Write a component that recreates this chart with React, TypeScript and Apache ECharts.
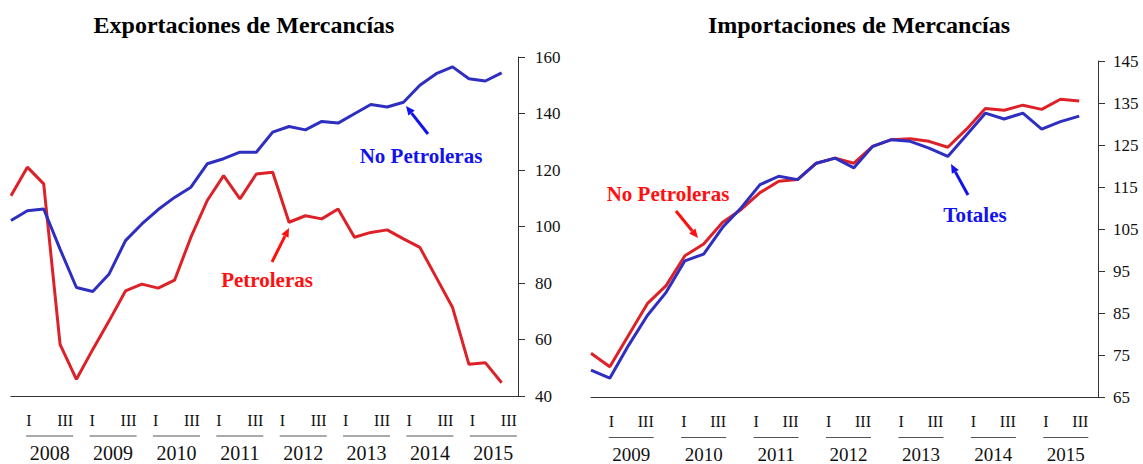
import React, { useEffect, useRef } from "react";
import * as echarts from "echarts";

// ---------- data ----------
const EXP_YEARS = ["2008", "2009", "2010", "2011", "2012", "2013", "2014", "2015"];
const IMP_YEARS = ["2009", "2010", "2011", "2012", "2013", "2014", "2015"];
const QUARTERS = ["I", "II", "III", "IV"];

// Exportaciones (2008-I .. 2015-III)
const EXP_NO_PETROLERAS = [
  102.1, 105.6, 106.2, 92.0, 78.4, 77.0, 83.2, 95.0, 100.9, 106.0, 110.3, 113.9,
  122.2, 124.0, 126.3, 126.3, 133.4, 135.4, 134.2, 137.2, 136.6, 139.9, 143.2, 142.3,
  144.0, 150.0, 154.1, 156.5, 152.3, 151.5, 154.4,
];
const EXP_PETROLERAS = [
  110.9, 121.0, 115.1, 58.3, 45.9, 56.5, 66.6, 77.2, 79.6, 78.2, 81.0, 96.2,
  109.2, 118.0, 109.8, 118.6, 119.2, 101.5, 103.8, 102.7, 106.2, 96.2, 97.9, 98.8,
  95.6, 92.6, 82.0, 71.3, 51.2, 51.8, 44.7,
];

// Importaciones (2009-I .. 2015-III)
const IMP_TOTALES = [
  71.5, 69.6, 77.4, 84.5, 90.0, 97.5, 99.1, 105.4, 110.1, 115.6, 117.6, 116.8,
  120.7, 121.9, 119.6, 124.7, 126.3, 125.9, 124.3, 122.3, 127.4, 132.6, 131.2, 132.6,
  128.8, 130.6, 131.9,
];
const IMP_NO_PETROLERAS = [
  75.5, 72.3, 79.8, 87.3, 91.6, 98.7, 101.5, 106.6, 109.7, 113.7, 116.4, 116.8,
  120.7, 121.9, 120.7, 124.7, 126.3, 126.5, 125.9, 124.5, 128.8, 133.7, 133.3, 134.5,
  133.5, 135.9, 135.5,
];

const EXP_Y = { min: 40, max: 160, interval: 20 };
const IMP_Y = { min: 65, max: 145, interval: 10 };

const TITLES = ["Exportaciones de Mercancías", "Importaciones de Mercancías"];

// ---------- styles ----------
const FONT = "'Liberation Serif', 'Times New Roman', Times, serif";
const BLUE_LINE = "#2E2EC0";
const RED_LINE = "#DC2228";
const BLUE_TEXT = "#1212EE";
const RED_TEXT = "#FF1010";
const AXIS = "#333333";

const quarterCats = (years: string[]) =>
  years.flatMap((y) => QUARTERS.map((q) => `${y}-${q}`));

const yearLabel = (padLeft: number, yearSize: number, ulWidth: number) => ({
  show: true,
  interval: 0,
  margin: 14,
  padding: [0, 0, 0, padLeft],
  formatter: (v: string) => `{qa|I}{qb|III}\n{u|}\n{y|${v}}`,
  rich: {
    qa: { align: "left", fontSize: 16, fontFamily: FONT, color: "#111", lineHeight: 20 },
    qb: { align: "right", fontSize: 16, fontFamily: FONT, color: "#111", lineHeight: 20 },
    u: { align: "center", width: ulWidth, height: 1, lineHeight: 12, backgroundColor: "#555" },
    y: { align: "center", fontSize: yearSize, fontFamily: FONT, color: "#111", lineHeight: 22 },
  },
});

const arrow = (x1: number, y1: number, x2: number, y2: number, color: string) => {
  const dx = x2 - x1;
  const dy = y2 - y1;
  const len = Math.sqrt(dx * dx + dy * dy);
  const ux = dx / len;
  const uy = dy / len;
  const hl = 9;
  const hw = 4;
  const bx = x2 - ux * hl;
  const by = y2 - uy * hl;
  return [
    {
      type: "line",
      shape: { x1, y1, x2: bx, y2: by },
      style: { stroke: color, lineWidth: 3 },
      silent: true,
    },
    {
      type: "polygon",
      shape: {
        points: [
          [x2, y2],
          [bx - uy * hw, by + ux * hw],
          [bx + uy * hw, by - ux * hw],
        ],
      },
      style: { fill: color },
      silent: true,
    },
  ];
};

const textEl = (x: number, y: number, text: string, color: string, size: number) => ({
  type: "text",
  x,
  y,
  silent: true,
  style: {
    text,
    fill: color,
    font: `bold ${size}px ${FONT}`,
    align: "center",
    verticalAlign: "middle",
  },
});

export default function App() {
  const ref = useRef<HTMLDivElement>(null);

  useEffect(() => {
    if (!ref.current) return;
    const chart = echarts.init(ref.current, undefined, { renderer: "svg" });

    const valueAxis = (gridIndex: number, r: { min: number; max: number; interval: number }, margin: number) => ({
      gridIndex,
      type: "value",
      position: "right",
      min: r.min,
      max: r.max,
      interval: r.interval,
      axisLine: { show: true, lineStyle: { color: AXIS, width: 1 } },
      axisTick: { show: true, length: 7, lineStyle: { color: AXIS } },
      axisLabel: { margin, fontSize: 17, fontFamily: FONT, color: "#111" },
      splitLine: { show: false },
    });

    const catAxis = (gridIndex: number, data: string[]) => ({
      gridIndex,
      type: "category",
      data,
      boundaryGap: false,
      position: "bottom",
      axisLine: { show: true, lineStyle: { color: AXIS, width: 1.2 } },
      axisTick: { show: false },
      axisLabel: { show: false },
      splitLine: { show: false },
    });

    const yearAxis = (gridIndex: number, data: string[], pad: number, size: number, ul: number) => ({
      gridIndex,
      type: "category",
      data,
      boundaryGap: true,
      position: "bottom",
      axisLine: { show: false },
      axisTick: { show: false },
      axisLabel: yearLabel(pad, size, ul),
      splitLine: { show: false },
    });

    const line = (xi: number, yi: number, data: number[], color: string) => ({
      type: "line",
      xAxisIndex: xi,
      yAxisIndex: yi,
      data,
      symbol: "none",
      smooth: false,
      lineStyle: { color, width: 3 },
      itemStyle: { color },
      emphasis: { disabled: true },
    });

    chart.setOption({
      animation: false,
      backgroundColor: "#ffffff",
      grid: [
        { left: 11, top: 57, width: 507, height: 339 },
        { left: 591, top: 61, width: 507, height: 338 },
      ],
      xAxis: [
        catAxis(0, quarterCats(EXP_YEARS)),
        yearAxis(0, EXP_YEARS, 14, 20, 47),
        catAxis(1, quarterCats(IMP_YEARS)),
        yearAxis(1, IMP_YEARS, 8, 19, 45),
      ],
      yAxis: [valueAxis(0, EXP_Y, 17), valueAxis(1, IMP_Y, 15)],
      series: [
        line(0, 0, EXP_PETROLERAS, RED_LINE),
        line(0, 0, EXP_NO_PETROLERAS, BLUE_LINE),
        line(2, 1, IMP_NO_PETROLERAS, RED_LINE),
        line(2, 1, IMP_TOTALES, BLUE_LINE),
      ],
      graphic: [
        textEl(244, 25, TITLES[0], "#000", 24),
        textEl(859, 25, TITLES[1], "#000", 24),
        textEl(421, 156, "No Petroleras", BLUE_TEXT, 21),
        ...arrow(428, 134, 406, 106, BLUE_TEXT),
        textEl(267, 280, "Petroleras", RED_TEXT, 21),
        ...arrow(272, 262, 289, 228, RED_TEXT),
        textEl(668, 194, "No Petroleras", RED_TEXT, 21),
        ...arrow(676, 211, 698, 238, RED_TEXT),
        textEl(975, 215, "Totales", BLUE_TEXT, 21),
        ...arrow(968, 195, 951, 164, BLUE_TEXT),
      ],
    });

    return () => chart.dispose();
  }, []);

  return (
    <div
      ref={ref}
      style={{ position: "fixed", left: 0, top: 0, width: 1143, height: 464, background: "#fff" }}
    />
  );
}
